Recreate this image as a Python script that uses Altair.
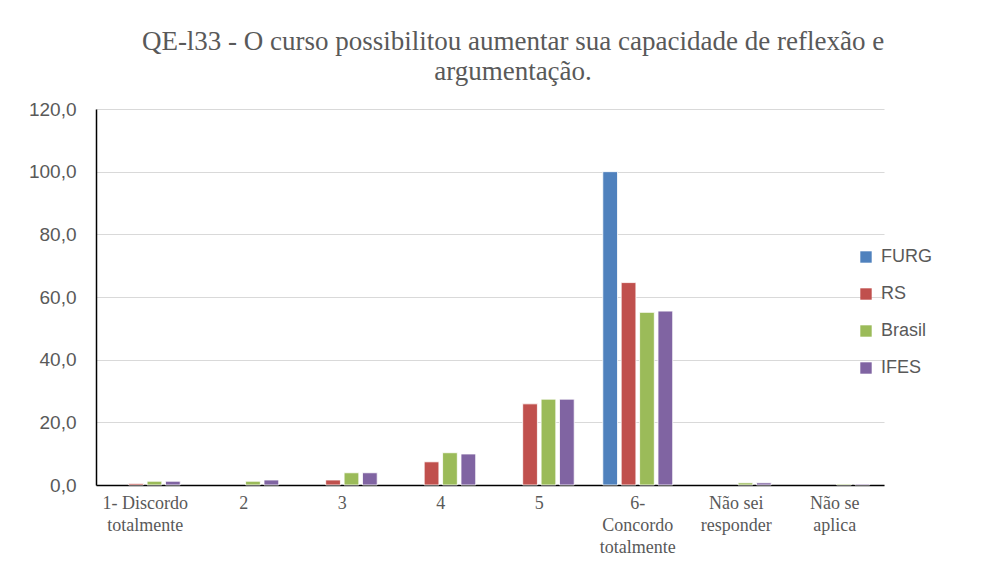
import altair as alt
import pandas as pd

categories = ["1- Discordo\ntotalmente", "2", "3", "4", "5",
              "6-\nConcordo\ntotalmente", "Não sei\nresponder", "Não se\naplica"]
series = ["FURG", "RS", "Brasil", "IFES"]
furg = [0.0, 0.0, 0.0, 0.0, 0.0, 100.0, 0.0, 0.0]
rs = [0.5, 0.0, 1.6, 7.4, 25.9, 64.6, 0.0, 0.0]
brasil = [1.2, 1.2, 3.9, 10.3, 27.4, 55.1, 0.7, 0.3]
ifes = [1.2, 1.6, 3.9, 9.9, 27.4, 55.5, 0.7, 0.3]
colors = ["#4F81BD", "#C0504D", "#9BBB59", "#8064A2"]

rows = []
for name, vals in zip(series, [furg, rs, brasil, ifes]):
    for c, v in zip(categories, vals):
        rows.append({"cat": c, "serie": name, "valor": v})
df = pd.DataFrame(rows)

chart = alt.Chart(df).mark_bar(stroke="white").encode(
    x=alt.X("cat:N", sort=categories, title=None,
            scale=alt.Scale(paddingInner=0.29, paddingOuter=0.145),
            axis=alt.Axis(labelAngle=0, labelExpr="split(datum.label, '\\n')",
                          labelFont="Liberation Serif", labelFontSize=18,
                          labelColor="#595959", labelLineHeight=22,
                          labelPadding=9, ticks=False, grid=False,
                          domainColor="black", domainWidth=1.5)),
    xOffset=alt.XOffset("serie:N", sort=series,
                        scale=alt.Scale(paddingInner=0.2)),
    y=alt.Y("valor:Q", title=None,
            scale=alt.Scale(domain=[0, 120]),
            axis=alt.Axis(values=[0, 20, 40, 60, 80, 100, 120],
                          labelExpr="replace(format(datum.value, '.1f'), '.', ',')",
                          labelFont="Liberation Sans", labelFontSize=19,
                          labelColor="#595959", labelPadding=20, ticks=False,
                          gridColor="#D9D9D9", domainColor="black",
                          domainWidth=1.5)),
    strokeWidth=alt.condition("datum.valor > 0", alt.value(0.8), alt.value(0)),
    color=alt.Color("serie:N", sort=series,
                    scale=alt.Scale(domain=series, range=colors),
                    legend=alt.Legend(title=None, orient="none", legendX=761,
                                      legendY=139, symbolType="square",
                                      symbolSize=130, symbolStrokeWidth=0,
                                      labelFont="Liberation Sans",
                                      labelFontSize=18, labelColor="#595959",
                                      rowPadding=19, labelOffset=6)),
).properties(
    width=788, height=376,
    title=alt.Title(
        ["QE-l33 - O curso possibilitou aumentar sua capacidade de reflexão e",
         "argumentação."],
        font="Liberation Serif", fontSize=27, fontWeight="normal",
        color="#595959", lineHeight=30, anchor="middle", frame="group",
        dx=23, offset=14),
    padding={"left": 20, "top": 20, "right": 5, "bottom": 5},
).configure(background="white", view=alt.ViewConfig(stroke=None))

chart.save("out.html", embed_options={"renderer": "svg", "actions": False})
